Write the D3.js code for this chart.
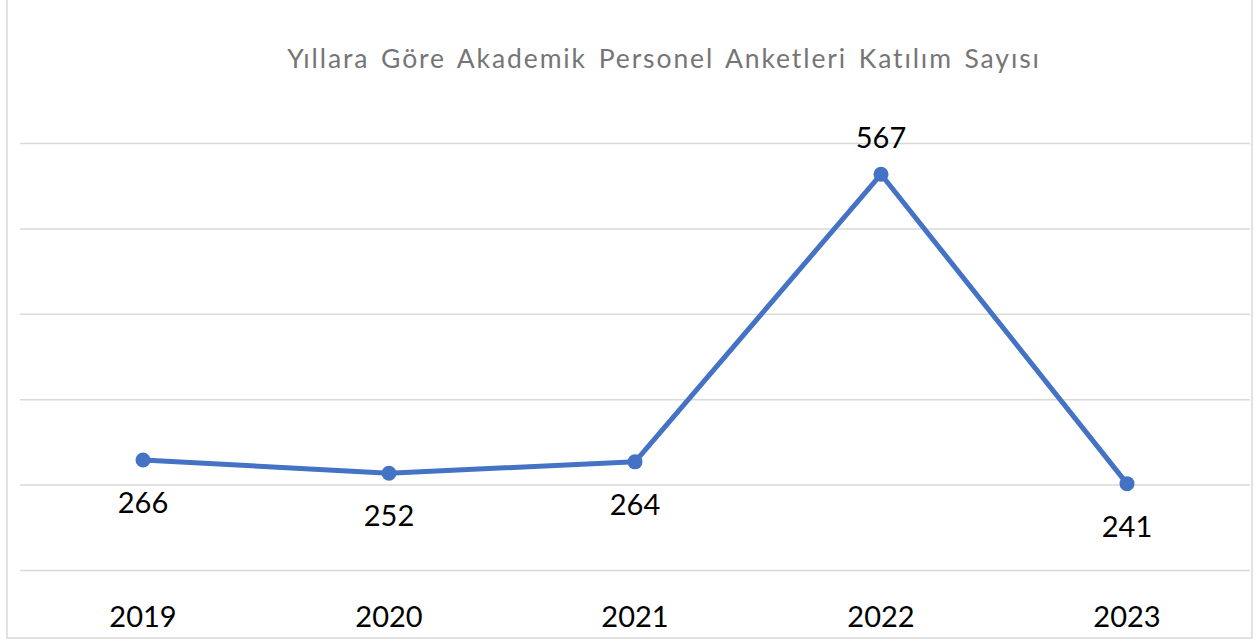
<!DOCTYPE html>
<html><head><meta charset="utf-8">
<script src="https://cdn.jsdelivr.net/npm/d3@7"></script>
<style>html,body{margin:0;padding:0;background:#fff;}svg{display:block;}</style>
</head><body>
<svg id="c" width="1256" height="642"></svg>
<script>
const categories = ["2019","2020","2021","2022","2023"];
const values = [266, 252, 264, 567, 241];
const labelPos = ["below","below","below","above","below"];
const gridTicks = [150, 240, 330, 420, 510, 600];
const title = "Yıllara Göre Akademik Personel Anketleri Katılım Sayısı";

const svg = d3.select("#c");
const font = "Lato, 'Open Sans', sans-serif";
// frame
svg.append("rect").attr("x",7).attr("y",-2).attr("width",1245).attr("height",640)
  .attr("fill","#fff").attr("stroke","#d9d9d9").attr("stroke-width",1.5);

const x = d3.scaleBand().domain(categories).range([20,1250]);
const y = d3.scaleLinear().domain([150,600]).range([570,143]);

const grid = svg.append("g").attr("transform","translate(20,0)")
  .call(d3.axisLeft(y).tickValues(gridTicks).tickSize(-1230).tickFormat(""));
grid.select(".domain").remove();
grid.selectAll(".tick line").attr("stroke","#d9d9d9").attr("stroke-width",1.5);

const xa = svg.append("g").attr("transform","translate(0,570)")
  .call(d3.axisBottom(x).tickSize(0).tickPadding(0));
xa.select(".domain").remove();
xa.selectAll("text").attr("y",57).attr("dy",0).attr("font-family",font)
  .attr("font-size",29).attr("fill","#000");

svg.append("text").attr("x",664).attr("y",68).attr("text-anchor","middle")
  .attr("font-family",font).attr("font-size",26.5).attr("fill","#757575")
  .attr("letter-spacing","1.9").attr("word-spacing","3").text(title);

const data = categories.map((c,i)=>({c, v: values[i], p: labelPos[i]}));
const cx = d => x(d.c) + x.bandwidth()/2;
svg.append("path").datum(data)
  .attr("d", d3.line().x(cx).y(d=>y(d.v)))
  .attr("fill","none").attr("stroke","#4472C4").attr("stroke-width",5)
  .attr("stroke-linejoin","round");
svg.selectAll("circle.pt").data(data).join("circle")
  .attr("cx",cx).attr("cy",d=>y(d.v)).attr("r",7.5).attr("fill","#4472C4");
svg.selectAll("text.lbl").data(data).join("text").attr("class","lbl")
  .attr("x",cx).attr("y",d=> d.p==="above" ? y(d.v)-26 : y(d.v)+53)
  .attr("text-anchor","middle").attr("font-family",font).attr("font-size",29)
  .attr("fill","#000").text(d=>d.v);
</script>
</body></html>
